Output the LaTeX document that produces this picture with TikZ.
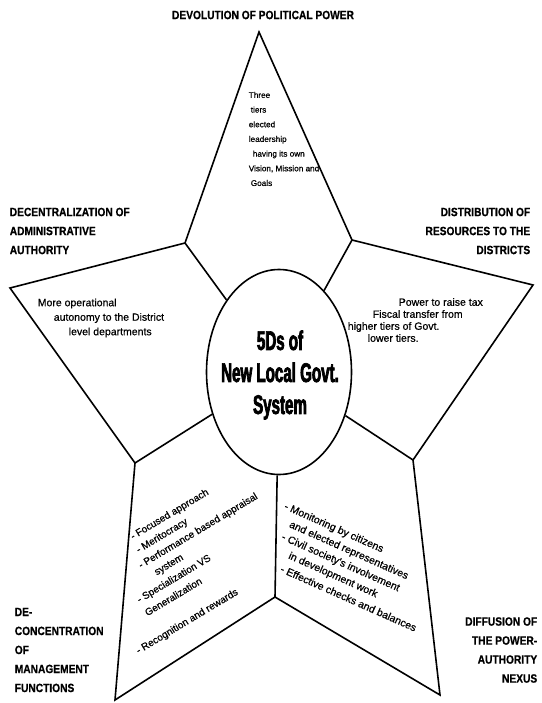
\documentclass[tikz,border=0pt]{standalone}
\usepackage{fontspec}
\setmainfont{Liberation Sans}
\newfontfamily\headfont[FakeStretch=0.85,FakeBold=0.6]{Liberation Sans}
\newfontfamily\bodyfont[FakeBold=0.7]{Liberation Sans}
\newfontfamily\hubfont[FakeStretch=0.56,FakeBold=2.5]{Liberation Sans}
\usepackage{tikz}
\usetikzlibrary{shapes.geometric}

\begin{document}
\begin{tikzpicture}[x=1pt, y=-1pt, line width=1.6pt,
    head/.style={font=\headfont\bfseries\fontsize{12}{19}\selectfont, inner sep=0pt},
    body/.style={font=\bodyfont\fontsize{10.5}{14.5}\selectfont, inner sep=0pt, align=left},
    item/.style={font=\bodyfont\fontsize{10}{12}\selectfont, inner sep=0pt, anchor=west},
    hub/.style={ellipse, draw, minimum width=145pt, minimum height=205pt, inner sep=0pt}]
\useasboundingbox (0,0) rectangle (541,703);

% Star points
\foreach \n/\x/\y in {ptop/259/32, iur/352/240, pright/533/285, ilr/413/460,
                      pbr/440/695, ibot/275/597, pbl/115/700, ill/135/463,
                      pleft/10/288, iul/185/243}
\coordinate (\n) at (\x,\y);
\draw (ptop) -- (iur) -- (pright) -- (ilr) -- (pbr) -- (ibot) -- (pbl) -- (ill) -- (pleft) -- (iul) -- cycle;

% Centre
\node[hub] (hub) at (279,372) {};
\node[font=\hubfont\bfseries\fontsize{27}{32}\selectfont, align=center, inner sep=0pt] (hubtext) at (280,375) {5Ds of\\New Local Govt.\\System};
\foreach \i in {iul,iur,ilr,ibot,ill}
\draw (\i) -- (hub);

% Headings
\node[head] (devo) at (263,15) {DEVOLUTION OF POLITICAL POWER};
\node[head, anchor=west, align=left] (decen) at (9,231) {DECENTRALIZATION OF\\ADMINISTRATIVE\\AUTHORITY};
\node[head, anchor=east, align=right] (distr) at (531,231) {DISTRIBUTION OF\\RESOURCES TO THE\\DISTRICTS};
\node[head, anchor=west, align=left] (deconc) at (14,650) {DE-\\CONCENTRATION\\OF\\MANAGEMENT\\FUNCTIONS};
\node[head, anchor=east, align=right] (diffus) at (538,650) {DIFFUSION OF\\THE POWER-\\AUTHORITY\\NEXUS};

% Texts
\node[body, font=\bodyfont\fontsize{8.2}{14.67}\selectfont, anchor=west] (tiers) at (248,139)
  {Three\\\hspace{2pt}tiers\\elected\\leadership\\\hspace{4pt}having its own\\Vision, Mission and\\\hspace{2pt}Goals};
\node[body, anchor=west] (autonomy) at (37,318)
  {More operational\\\hspace{16pt}autonomy to the District\\\hspace{31pt}level departments};
\node[body, font=\bodyfont\fontsize{10.5}{12}\selectfont, anchor=west] (fiscal) at (347,320)
  {\hspace{51pt}Power to raise tax\\\hspace{25pt}Fiscal transfer from\\higher tiers of Govt.\\\hspace{20pt}lower tiers.};

% slanted lists
\begin{scope}[shift={(131,538)}, rotate=31, transform shape]
\foreach \a/\p/\t [count=\k] in {0/0/{- Focused approach}, -2/14.4/{- Meritocracy},
    -8/28.8/{- Performance based appraisal}, 2/43.2/{system}, -27/57.6/{- Specialization VS},
    -27/72/{Generalization}, -54/100.8/{- Recognition and rewards}}
\node[item] (mgmt\k) at (\a,\p) {\t};
\end{scope}
\begin{scope}[shift={(284,506)}, rotate=-24, transform shape]
\foreach \a/\p/\t [count=\k] in {0/0/{- Monitoring by citizens}, 12/14.5/{and elected representatives},
    10/29/{- Civil society's involvement}, 24/43.5/{in development work},
    22/58/{- Effective checks and balances}}
\node[item, font=\bodyfont\fontsize{10.5}{12}\selectfont] (nexus\k) at (\a,\p) {\t};
\end{scope}
\end{tikzpicture}
\end{document}
